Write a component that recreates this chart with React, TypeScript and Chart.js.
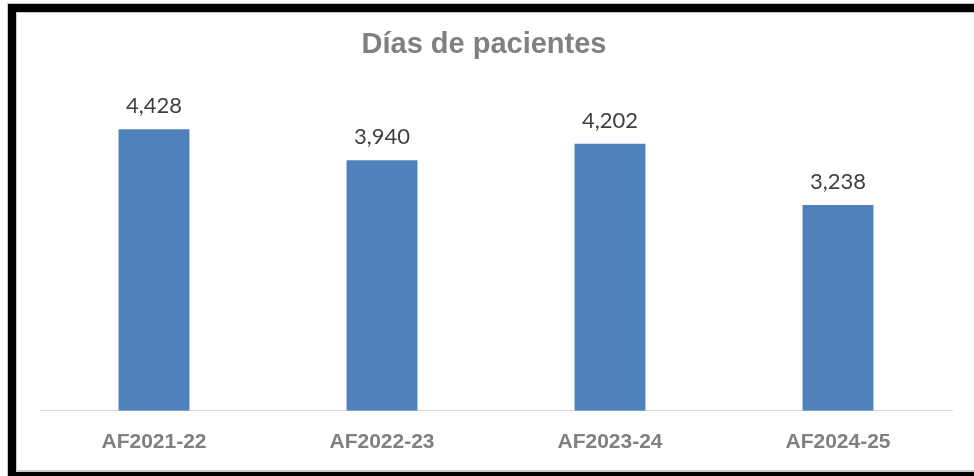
import React, { useEffect, useRef } from "react";
import { Chart, registerables } from "chart.js";

Chart.register(...registerables);

const categories = ["AF2021-22", "AF2022-23", "AF2023-24", "AF2024-25"];
const patientDays = [4428, 3940, 4202, 3238];
const chartTitle = "Días de pacientes";

const frame = {
  id: "frame",
  beforeDraw(chart: any) {
    const ctx = chart.ctx;
    const w = chart.width;
    const h = chart.height;
    ctx.save();
    ctx.fillStyle = "#ffffff";
    ctx.fillRect(0, 0, w, h);
    // light grey edges
    ctx.fillStyle = "#c8c8c8";
    ctx.fillRect(8, 3, w - 8, 1);
    ctx.fillRect(16, 12, w - 16, 1);
    ctx.fillRect(16, 12, 1, h - 12);
    ctx.fillRect(16, 470, w - 16, 2);
    ctx.fillRect(7, 3, 1, h - 3);
    // black frame
    ctx.fillStyle = "#000000";
    ctx.fillRect(8, 4, w - 8, 8);
    ctx.fillRect(8, 4, 8, h - 4);
    ctx.fillRect(8, 472, w - 8, h - 472);
    // title
    ctx.font = "bold 29px 'Liberation Sans'";
    ctx.fillStyle = "#808080";
    ctx.textAlign = "center";
    ctx.textBaseline = "middle";
    ctx.fillText(chartTitle, 484, 45);
    ctx.restore();
  },
};

const dataLabels = {
  id: "dataLabels",
  afterDatasetsDraw(chart: any) {
    const ctx = chart.ctx;
    const meta = chart.getDatasetMeta(0);
    ctx.save();
    ctx.font = "22px Lato";
    ctx.fillStyle = "#404040";
    ctx.textAlign = "center";
    ctx.textBaseline = "middle";
    meta.data.forEach((bar: any, i: number) => {
      const v = chart.data.datasets[0].data[i] as number;
      ctx.fillText(v.toLocaleString("en-US"), bar.x, bar.y - 23);
    });
    ctx.restore();
  },
};

export default function App() {
  const ref = useRef<HTMLCanvasElement>(null);
  useEffect(() => {
    if (!ref.current) return;
    const chart = new Chart(ref.current, {
      type: "bar",
      data: {
        labels: categories,
        datasets: [
          {
            data: patientDays,
            backgroundColor: "#4f81bd",
            borderWidth: 0,
            categoryPercentage: 1,
            barPercentage: 0.311,
          },
        ],
      },
      options: {
        responsive: false,
        animation: false,
        layout: { padding: { left: 40, right: 22, top: 93, bottom: 2 } },
        plugins: {
          legend: { display: false },
          tooltip: { enabled: false },
          title: { display: false },
        },
        scales: {
          x: {
            grid: { display: false, drawTicks: false },
            border: { display: true, color: "#d9d9d9", width: 1 },
            ticks: {
              color: "#808080",
              padding: 19,
              font: { family: "Liberation Sans", size: 21, weight: "bold", lineHeight: 1.2 },
            },
          },
          y: {
            display: false,
            min: 0,
            max: 5000,
          },
        },
      },
      plugins: [frame, dataLabels],
    });
    return () => chart.destroy();
  }, []);
  return (
    <div style={{ position: "absolute", left: 0, top: 0, width: 974, height: 476 }}>
      <canvas ref={ref} width={974} height={476} />
    </div>
  );
}
